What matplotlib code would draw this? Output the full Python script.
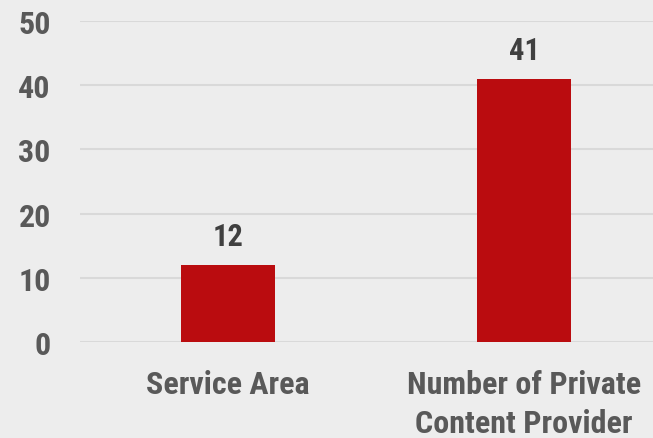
import matplotlib
matplotlib.use("Agg")
import matplotlib.pyplot as plt
from matplotlib import font_manager

categories = ["Service Area", "Number of Private\nContent Provider"]
values = [12, 41]
yticks = [0, 10, 20, 30, 40, 50]

available = {f.name for f in font_manager.fontManager.ttflist}
family = [f for f in ["Roboto Condensed", "Liberation Sans Narrow", "Roboto", "DejaVu Sans"] if f in available]
plt.rcParams['font.family'] = family

fig = plt.figure(figsize=(6.53, 4.39), dpi=100)
fig.patch.set_facecolor("#ededed")
ax = fig.add_axes([80/653, 96/439, 592/653, 321/439])
ax.set_facecolor("none")

x = list(range(len(categories)))
bars = ax.bar(x, values, width=0.315, color="#BA0C0F", zorder=3)
for xi, v in zip(x, values):
    ax.annotate(str(v), (xi, v), xytext=(0, 10), textcoords="offset points",
                ha="center", va="bottom", fontsize=22, fontweight="bold", color="#404040")

ax.set_xlim(-0.5, 1.5)
ax.set_ylim(0, 50)
ax.set_yticks(yticks)
ax.set_xticks(x)
ax.set_xticklabels(categories, fontsize=23, fontweight="bold", color="#595959", linespacing=1.38)
ax.tick_params(axis="y", labelsize=23, labelcolor="#595959", length=0, pad=21)
ax.tick_params(axis="x", length=0, pad=19.5)
for lbl in ax.get_yticklabels():
    lbl.set_fontweight("bold")
ax.grid(axis="y", color="#d9d9d9", linewidth=1.5, zorder=0)
for s in ax.spines.values():
    s.set_visible(False)

fig.savefig("out.png", dpi=100, facecolor=fig.get_facecolor())
